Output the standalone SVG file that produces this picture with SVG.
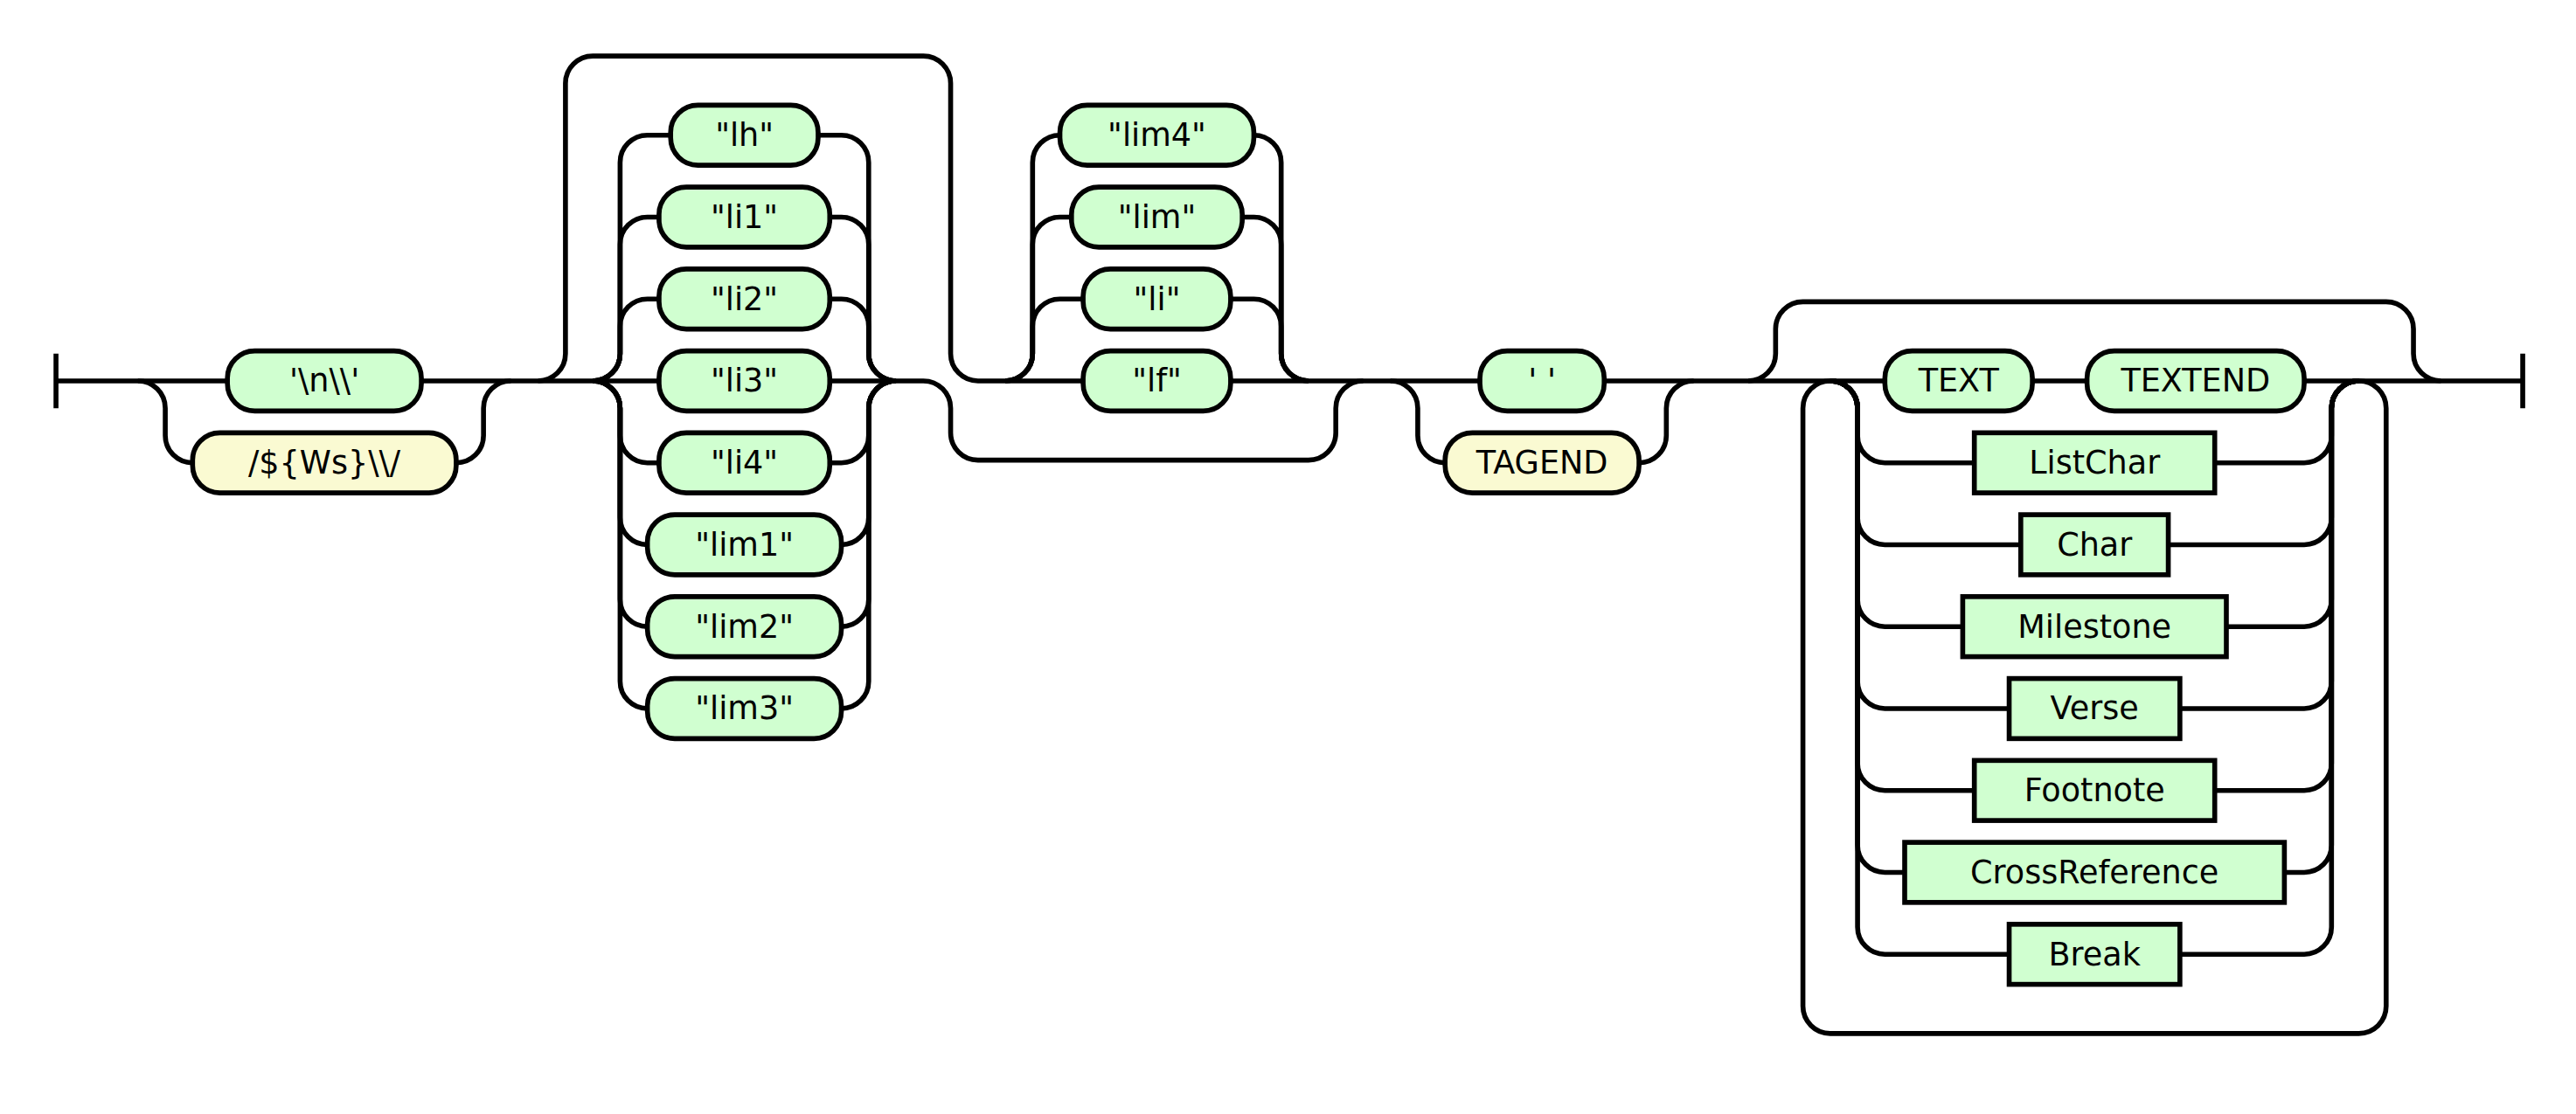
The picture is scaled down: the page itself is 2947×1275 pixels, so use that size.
<svg xmlns="http://www.w3.org/2000/svg" width="2947" height="1275" viewBox="0 0 2947 1275">
  <style>
    .rail { fill: none; stroke: #000; stroke-width: 1.8; }
    .node rect { stroke: #000; stroke-width: 1.8; fill: #D0FFD0; }
    .node.regex rect { fill: #FAFAD2; }
    .node text { font-family: "DejaVu Sans", "Liberation Sans", sans-serif; font-size: 11.7px; text-anchor: middle; fill: #000; }
  </style>
  <rect width="2947" height="1275" fill="#fff"/>
  <!-- layout is in diagram units; one unit = 2947/943 px -->
  <g transform="scale(3.12513)">
    <g id="connectors" class="rail">
      <!-- main line, start and end bars -->
      <path d="M20.5 129.5v20m0-10H83.25"/>
      <path d="M154.25 139.5H241.25"/>
      <path d="M450.5 139.5H541.75"/>
      <path d="M587.25 139.5H690"/>
      <path d="M744 139.5H764"/>
      <path d="M843.5 139.5H923.5m0-10v20"/>

      <!-- first choice: newline / Ws regex -->
      <path d="M50.5 139.5a10 10 0 0 1 10 10V159.5a10 10 0 0 0 10 10"/>
      <path d="M167 169.5a10 10 0 0 0 10-10V149.5a10 10 0 0 1 10-10"/>

      <!-- horizontal choice: upper and lower tracks -->
      <path d="M197 139.5a10 10 0 0 0 10-10V30.5a10 10 0 0 1 10-10H338a10 10 0 0 1 10 10V129.5a10 10 0 0 0 10 10H396.5"/>
      <path d="M303.75 139.5H338a10 10 0 0 1 10 10V158.5a10 10 0 0 0 10 10H479a10 10 0 0 0 10-10V149.5a10 10 0 0 1 10-10"/>

      <!-- list-item marker choice -->
      <path d="M217 139.5a10 10 0 0 0 10-10V59.5a10 10 0 0 1 10-10H245.5"/>
      <path d="M299.5 49.5H308a10 10 0 0 1 10 10V129.5a10 10 0 0 0 10 10"/>
      <path d="M217 139.5a10 10 0 0 0 10-10V89.5a10 10 0 0 1 10-10H241.25"/>
      <path d="M303.75 79.5H308a10 10 0 0 1 10 10V129.5a10 10 0 0 0 10 10"/>
      <path d="M217 139.5a10 10 0 0 0 10-10V119.5a10 10 0 0 1 10-10H241.25"/>
      <path d="M303.75 109.5H308a10 10 0 0 1 10 10V129.5a10 10 0 0 0 10 10"/>
      <path d="M217 139.5a10 10 0 0 1 10 10V159.5a10 10 0 0 0 10 10H241.25"/>
      <path d="M303.75 169.5H308a10 10 0 0 0 10-10V149.5a10 10 0 0 1 10-10"/>
      <path d="M217 139.5a10 10 0 0 1 10 10V189.5a10 10 0 0 0 10 10"/>
      <path d="M308 199.5a10 10 0 0 0 10-10V149.5a10 10 0 0 1 10-10"/>
      <path d="M217 139.5a10 10 0 0 1 10 10V219.5a10 10 0 0 0 10 10"/>
      <path d="M308 229.5a10 10 0 0 0 10-10V149.5a10 10 0 0 1 10-10"/>
      <path d="M217 139.5a10 10 0 0 1 10 10V249.5a10 10 0 0 0 10 10"/>
      <path d="M308 259.5a10 10 0 0 0 10-10V149.5a10 10 0 0 1 10-10"/>

      <!-- second marker choice -->
      <path d="M368 139.5a10 10 0 0 0 10-10V59.5a10 10 0 0 1 10-10"/>
      <path d="M459 49.5a10 10 0 0 1 10 10V129.5a10 10 0 0 0 10 10"/>
      <path d="M368 139.5a10 10 0 0 0 10-10V89.5a10 10 0 0 1 10-10H392.25"/>
      <path d="M454.75 79.5H459a10 10 0 0 1 10 10V129.5a10 10 0 0 0 10 10"/>
      <path d="M368 139.5a10 10 0 0 0 10-10V119.5a10 10 0 0 1 10-10H396.5"/>
      <path d="M450.5 109.5H459a10 10 0 0 1 10 10V129.5a10 10 0 0 0 10 10"/>

      <!-- space / TAGEND choice -->
      <path d="M509 139.5a10 10 0 0 1 10 10V159.5a10 10 0 0 0 10 10"/>
      <path d="M600 169.5a10 10 0 0 0 10-10V149.5a10 10 0 0 1 10-10"/>

      <!-- optional skip and repeat loop -->
      <path d="M640 139.5a10 10 0 0 0 10-10V120.5a10 10 0 0 1 10-10H873.5a10 10 0 0 1 10 10V129.5a10 10 0 0 0 10 10"/>
      <path d="M670 139.5a10 10 0 0 0-10 10V368.5a10 10 0 0 0 10 10H863.5a10 10 0 0 0 10-10V149.5a10 10 0 0 0-10-10"/>

      <!-- content choice -->
      <path d="M670 139.5a10 10 0 0 1 10 10V159.5a10 10 0 0 0 10 10H722.75"/>
      <path d="M810.75 169.5H843.5a10 10 0 0 0 10-10V149.5a10 10 0 0 1 10-10"/>
      <path d="M670 139.5a10 10 0 0 1 10 10V189.5a10 10 0 0 0 10 10H739.75"/>
      <path d="M793.75 199.5H843.5a10 10 0 0 0 10-10V149.5a10 10 0 0 1 10-10"/>
      <path d="M670 139.5a10 10 0 0 1 10 10V219.5a10 10 0 0 0 10 10H718.5"/>
      <path d="M815 229.5H843.5a10 10 0 0 0 10-10V149.5a10 10 0 0 1 10-10"/>
      <path d="M670 139.5a10 10 0 0 1 10 10V249.5a10 10 0 0 0 10 10H735.5"/>
      <path d="M798 259.5H843.5a10 10 0 0 0 10-10V149.5a10 10 0 0 1 10-10"/>
      <path d="M670 139.5a10 10 0 0 1 10 10V279.5a10 10 0 0 0 10 10H722.75"/>
      <path d="M810.75 289.5H843.5a10 10 0 0 0 10-10V149.5a10 10 0 0 1 10-10"/>
      <path d="M670 139.5a10 10 0 0 1 10 10V309.5a10 10 0 0 0 10 10H697.25"/>
      <path d="M836.25 319.5H843.5a10 10 0 0 0 10-10V149.5a10 10 0 0 1 10-10"/>
      <path d="M670 139.5a10 10 0 0 1 10 10V339.5a10 10 0 0 0 10 10H735.5"/>
      <path d="M798 349.5H843.5a10 10 0 0 0 10-10V149.5a10 10 0 0 1 10-10"/>
    </g>

    <!-- terminals -->
    <g id="t-newline" class="node"><rect x="83.25" y="128.5" width="71" height="22" rx="10"/><text x="118.75" y="143.5">'\n\\'</text></g>
    <g id="t-ws" class="node regex"><rect x="70.5" y="158.5" width="96.5" height="22" rx="10"/><text x="118.75" y="173.5">/${Ws}\\/</text></g>

    <g id="t-lh" class="node"><rect x="245.5" y="38.5" width="54" height="22" rx="10"/><text x="272.5" y="53.5">"lh"</text></g>
    <g id="t-li1" class="node"><rect x="241.25" y="68.5" width="62.5" height="22" rx="10"/><text x="272.5" y="83.5">"li1"</text></g>
    <g id="t-li2" class="node"><rect x="241.25" y="98.5" width="62.5" height="22" rx="10"/><text x="272.5" y="113.5">"li2"</text></g>
    <g id="t-li3" class="node"><rect x="241.25" y="128.5" width="62.5" height="22" rx="10"/><text x="272.5" y="143.5">"li3"</text></g>
    <g id="t-li4" class="node"><rect x="241.25" y="158.5" width="62.5" height="22" rx="10"/><text x="272.5" y="173.5">"li4"</text></g>
    <g id="t-lim1" class="node"><rect x="237" y="188.5" width="71" height="22" rx="10"/><text x="272.5" y="203.5">"lim1"</text></g>
    <g id="t-lim2" class="node"><rect x="237" y="218.5" width="71" height="22" rx="10"/><text x="272.5" y="233.5">"lim2"</text></g>
    <g id="t-lim3" class="node"><rect x="237" y="248.5" width="71" height="22" rx="10"/><text x="272.5" y="263.5">"lim3"</text></g>

    <g id="t-lim4" class="node"><rect x="388" y="38.5" width="71" height="22" rx="10"/><text x="423.5" y="53.5">"lim4"</text></g>
    <g id="t-lim" class="node"><rect x="392.25" y="68.5" width="62.5" height="22" rx="10"/><text x="423.5" y="83.5">"lim"</text></g>
    <g id="t-li" class="node"><rect x="396.5" y="98.5" width="54" height="22" rx="10"/><text x="423.5" y="113.5">"li"</text></g>
    <g id="t-lf" class="node"><rect x="396.5" y="128.5" width="54" height="22" rx="10"/><text x="423.5" y="143.5">"lf"</text></g>

    <g id="t-space" class="node"><rect x="541.75" y="128.5" width="45.5" height="22" rx="10"/><text x="564.5" y="143.5">' '</text></g>
    <g id="t-tagend" class="node regex"><rect x="529" y="158.5" width="71" height="22" rx="10"/><text x="564.5" y="173.5">TAGEND</text></g>

    <g id="t-text" class="node"><rect x="690" y="128.5" width="54" height="22" rx="10"/><text x="717" y="143.5">TEXT</text></g>
    <g id="t-textend" class="node"><rect x="764" y="128.5" width="79.5" height="22" rx="10"/><text x="803.75" y="143.5">TEXTEND</text></g>

    <!-- non-terminals -->
    <g id="n-listchar" class="node"><rect x="722.75" y="158.5" width="88" height="22"/><text x="766.75" y="173.5">ListChar</text></g>
    <g id="n-char" class="node"><rect x="739.75" y="188.5" width="54" height="22"/><text x="766.75" y="203.5">Char</text></g>
    <g id="n-milestone" class="node"><rect x="718.5" y="218.5" width="96.5" height="22"/><text x="766.75" y="233.5">Milestone</text></g>
    <g id="n-verse" class="node"><rect x="735.5" y="248.5" width="62.5" height="22"/><text x="766.75" y="263.5">Verse</text></g>
    <g id="n-footnote" class="node"><rect x="722.75" y="278.5" width="88" height="22"/><text x="766.75" y="293.5">Footnote</text></g>
    <g id="n-crossreference" class="node"><rect x="697.25" y="308.5" width="139" height="22"/><text x="766.75" y="323.5">CrossReference</text></g>
    <g id="n-break" class="node"><rect x="735.5" y="338.5" width="62.5" height="22"/><text x="766.75" y="353.5">Break</text></g>
  </g>
</svg>
